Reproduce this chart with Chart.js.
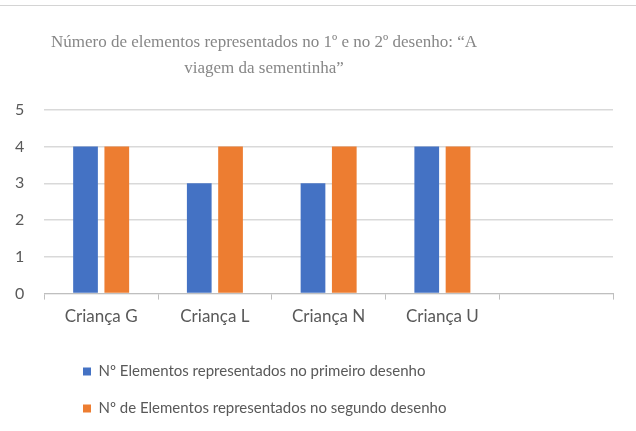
<!DOCTYPE html>
<html>
<head>
<meta charset="utf-8">
<script src="https://cdn.jsdelivr.net/npm/chart.js@4"></script>
<style>
  html, body { margin: 0; padding: 0; background: #fff; }
  #wrap { position: relative; width: 636px; height: 431px; }
  #linhaTopo { position: absolute; left: 0; top: 5px; width: 636px; height: 1px; background: #d4d4d4; }
</style>
</head>
<body>
<div id="wrap">
  <div id="linhaTopo"></div>
  <canvas id="meuGrafico" width="636" height="431"></canvas>
</div>
<script>
// dados
const criancas = ['Criança G', 'Criança L', 'Criança N', 'Criança U', ''];
const primeiroDesenho = [4, 3, 3, 4, null];
const segundoDesenho = [4, 4, 4, 4, null];
const ticksY = [0, 1, 2, 3, 4, 5];
const titulo = ['Número de elementos representados no 1º e no 2º desenho: “A', 'viagem da sementinha”'];
const nomesSeries = ['Nº Elementos representados no primeiro desenho', 'Nº de Elementos representados no segundo desenho'];

const corTexto = '#595959';
const fonteTexto = 'Lato, "Liberation Sans", sans-serif';

// no original o título e a legenda não estão centrados no canvas
const ajustaBlocos = {
    id: 'ajustaBlocos',
    afterLayout(chart) {
        const t = chart.titleBlock;
        t.left = 0;
        t.right = 528;
        const leg = chart.legend;
        const w = leg.right - leg.left;
        leg.left = 83 - leg.options.labels.padding;
        leg.right = leg.left + w;
        leg.top += 8;
        leg.bottom += 8;
    }
};

const ctx = document.getElementById('meuGrafico').getContext('2d');
const grafico = new Chart(ctx, {
    type: 'bar',
    data: {
        labels: criancas,
        datasets: [{
            label: nomesSeries[0],
            data: primeiroDesenho,
            backgroundColor: '#4472C4',
            categoryPercentage: 0.55,
            barPercentage: 0.79
        }, {
            label: nomesSeries[1],
            data: segundoDesenho,
            backgroundColor: '#ED7D31',
            categoryPercentage: 0.55,
            barPercentage: 0.79
        }]
    },
    options: {
        responsive: false,
        animation: false,
        layout: { padding: { left: -5, right: 23, top: 29, bottom: 13 } },
        plugins: {
            title: {
                display: true,
                text: titulo,
                color: '#878787',
                font: { family: '"Liberation Serif", "Times New Roman", serif', size: 17, weight: 'normal', lineHeight: 1.55 },
                padding: { top: 0, bottom: 28 }
            },
            legend: {
                position: 'bottom',
                align: 'start',
                labels: {
                    boxWidth: 8,
                    boxHeight: 8,
                    padding: 22,
                    color: corTexto,
                    font: { family: fonteTexto, size: 15 }
                }
            },
            tooltip: { enabled: false }
        },
        scales: {
            x: {
                grid: { display: true, drawOnChartArea: false, drawTicks: true, tickLength: 6, color: '#bfbfbf' },
                border: { display: true, color: '#bfbfbf', width: 1 },
                ticks: { color: corTexto, font: { family: fonteTexto, size: 17 }, padding: 7 }
            },
            y: {
                min: 0,
                max: 5,
                afterBuildTicks(axis) { axis.ticks = ticksY.map(v => ({ value: v })); },
                grid: { color: '#d9d9d9', lineWidth: 1.5, drawTicks: false },
                border: { display: false },
                ticks: { color: corTexto, font: { family: fonteTexto, size: 16 }, padding: 20 }
            }
        }
    },
    plugins: [ajustaBlocos]
});
</script>
</body>
</html>
